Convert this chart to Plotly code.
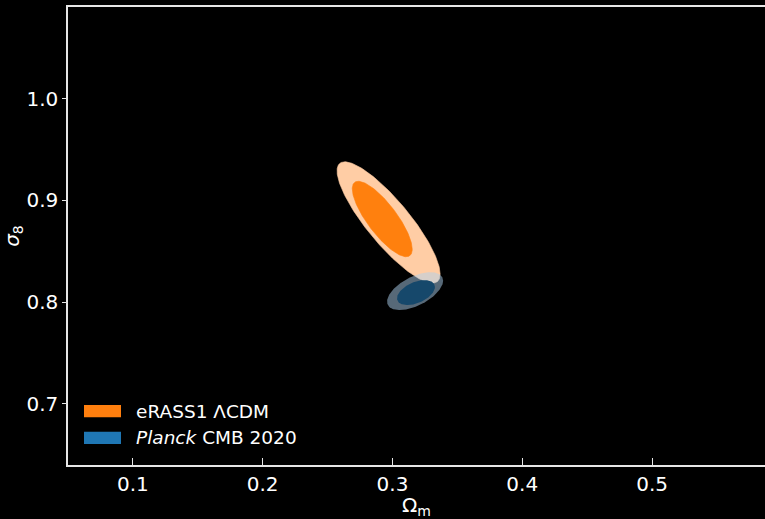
import numpy as np
import plotly.graph_objects as go

# Contour summaries:
# each contour: centre (Ωm, σ8), half-extent in Ωm, half-extent in σ8, correlation
erass_levels = ["95%", "68%"]
erass_cx = [0.2970, 0.2921]
erass_cy = [0.8783, 0.8817]
erass_hx = [0.0397, 0.0231]
erass_hy = [0.0596, 0.0371]
erass_rho = [-0.85, -0.80]

planck_levels = ["95%", "68%"]
planck_cx = [0.3174, 0.3181]
planck_cy = [0.8108, 0.8094]
planck_hx = [0.0216, 0.0146]
planck_hy = [0.0186, 0.0123]
planck_rho = [0.55, 0.45]

x_ticks = [0.1, 0.2, 0.3, 0.4, 0.5]
y_ticks = [0.7, 0.8, 0.9, 1.0]
legend_names = ["eRASS1 ΛCDM", "<i>Planck</i> CMB 2020"]

erass_fill = ["rgb(255,205,165)", "rgb(255,128,14)"]
planck_fill = ["rgba(173,210,239,0.5)", "rgb(22,72,107)"]
legend_colors = ["rgb(255,127,14)", "rgb(31,119,180)"]

FONT = "DejaVu Sans"


def contour(cx, cy, hx, hy, rho, n=240):
    t = np.linspace(0, 2 * np.pi, n)
    x = cx + hx * np.cos(t)
    y = cy + hy * (rho * np.cos(t) + np.sqrt(1 - rho ** 2) * np.sin(t))
    return x, y


fig = go.Figure()

for i in range(2):
    x, y = contour(erass_cx[i], erass_cy[i], erass_hx[i], erass_hy[i], erass_rho[i])
    fig.add_trace(go.Scatter(x=x, y=y, mode="lines", fill="toself",
                             fillcolor=erass_fill[i], line=dict(width=0.6, color=erass_fill[i]),
                             showlegend=False, hoverinfo="skip", name=f"eRASS1 {erass_levels[i]}"))
for i in range(2):
    x, y = contour(planck_cx[i], planck_cy[i], planck_hx[i], planck_hy[i], planck_rho[i])
    fig.add_trace(go.Scatter(x=x, y=y, mode="lines", fill="toself",
                             fillcolor=planck_fill[i], line=dict(width=0),
                             showlegend=False, hoverinfo="skip", name=f"Planck {planck_levels[i]}"))

# Legend drawn as patches + text inside the axes (lower left)
PLOT_L, PLOT_T, PLOT_W, PLOT_H = 68, 7, 697, 458


def px_x(p):
    return (p - PLOT_L) / PLOT_W


def px_y(p):
    return (PLOT_T + PLOT_H - p) / PLOT_H


patch_rows = [(405, 417.3), (431.7, 444)]
for (top, bot), name, col in zip(patch_rows, legend_names, legend_colors):
    fig.add_shape(type="rect", xref="paper", yref="paper",
                  x0=px_x(84), x1=px_x(121), y0=px_y(bot), y1=px_y(top),
                  fillcolor=col, line=dict(width=0), layer="above")
    fig.add_annotation(xref="paper", yref="paper", x=px_x(134), y=px_y((top + bot) / 2),
                       text=name, showarrow=False, xanchor="left", yanchor="middle",
                       font=dict(family=FONT, size=18.5, color="white"))

axis_common = dict(showgrid=False, zeroline=False, showline=True, linecolor="#e6e6e6",
                   linewidth=1.5, tickcolor="#e6e6e6", tickwidth=1.2,
                   tickfont=dict(family=FONT, size=20, color="white"))

fig.update_layout(
    width=765, height=519,
    paper_bgcolor="black", plot_bgcolor="black",
    margin=dict(l=PLOT_L, r=0, t=PLOT_T, b=519 - PLOT_T - PLOT_H),
    font=dict(family=FONT, color="white"),
    showlegend=False,
    xaxis=dict(range=[0.05, 0.587], tickvals=x_ticks, ticktext=[f"{v:.1f}" for v in x_ticks],
               ticks="inside", ticklen=7, mirror=True,
               title=dict(text="Ω<sub>m</sub>", font=dict(family=FONT, size=20, color="white"), standoff=8),
               **axis_common),
    yaxis=dict(range=[0.64, 1.09], tickvals=y_ticks, ticktext=[f"{v:.1f}" for v in y_ticks],
               ticks="outside", ticklen=4,
               title=dict(text="<i>σ</i><sub>8</sub>", font=dict(family=FONT, size=20, color="white"), standoff=6),
               **axis_common),
)

fig.write_html("out.html", config={"displayModeBar": False},
               post_script="document.body.style.margin='0';document.body.style.overflow='hidden';")
